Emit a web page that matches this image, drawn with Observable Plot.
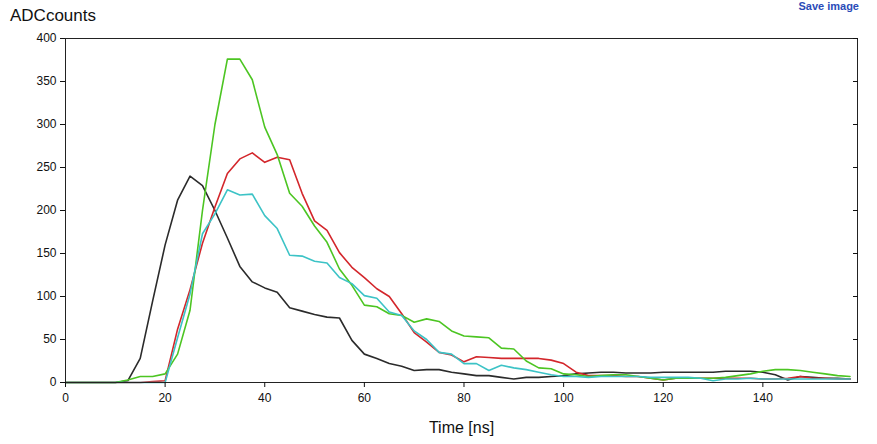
<!DOCTYPE html>
<html>
<head>
<meta charset="utf-8">
<script src="https://cdn.jsdelivr.net/npm/d3@7"></script>
<script src="https://cdn.jsdelivr.net/npm/@observablehq/plot@0.6"></script>
<style>
  body { margin: 0; background: #fff; font-family: "Liberation Sans", Arial, sans-serif; }
  #wrap { position: relative; width: 877px; }
  #ylab { position: absolute; left: 10px; top: 6px; font-size: 17px; color: #111; }
  #save { position: absolute; right: 18px; top: 0px; font-size: 11px; font-weight: bold; color: #2a4bb8; }
</style>
</head>
<body>
<div id="wrap">
  <div id="ylab">ADCcounts</div>
  <div id="save">Save image</div>
  <div id="chart"></div>
</div>
<script>
// sample times, 2.5 ns step
const time = d3.range(0, 160, 2.5)

const ch1 = [0,0,0,0,0,2,28,95,160,212,240,229,200,168,135,117,110,105,87,83,79,76,75,49,33,28,22,19,14,15,15,12,10,8,8,6,4,6,6,7,8,10,11,12,12,11,11,11,12,12,12,12,12,13,13,13,12,9,3,7,6,5,5,4]
const ch2 = [0,0,0,0,0,0,0,1,2,62,108,162,204,243,260,267,256,262,259,220,188,177,151,134,122,109,100,80,58,47,35,32,24,30,29,28,28,28,28,26,22,12,8,8,8,7,7,5,3,5,5,5,5,5,5,5,4,4,5,7,5,5,4,4]
const ch3 = [0,0,0,0,0,3,7,7,10,33,84,200,300,376,376,352,297,265,220,205,182,163,132,113,90,88,80,78,70,74,71,60,54,53,52,40,39,25,17,16,10,9,7,8,9,9,7,5,3,5,5,5,5,6,8,10,13,15,15,14,12,10,8,7]
const ch4 = [0,0,0,0,0,0,0,0,0,52,103,173,196,224,218,219,194,179,148,147,141,139,122,115,101,98,82,78,60,50,35,33,22,22,14,20,17,15,12,9,7,7,6,7,7,7,7,6,6,6,6,5,2,4,4,5,4,4,4,4,4,4,4,4]

const channels = ['ch1', 'ch2', 'ch3', 'ch4']
const colors = ['#2b2b2b', '#d3262b', '#4cc522', '#3cc3c6']
const rows = [ch1, ch2, ch3, ch4].flatMap((vals, k) => vals.map((v, i) => ({t: time[i], v, ch: channels[k]})))

const xTicks = [0, 20, 40, 60, 80, 100, 120, 140]
const yTicks = d3.range(0, 401, 50)

const chart = Plot.plot({
  width: 877,
  height: 444,
  marginLeft: 65,
  marginRight: 20,
  marginTop: 38,
  marginBottom: 62,
  style: {fontFamily: '"Liberation Sans", Arial, sans-serif', fontSize: '12px', color: '#111'},
  x: {domain: [0, 159], label: null},
  y: {domain: [0, 400], label: null},
  color: {domain: channels, range: colors},
  marks: [
    Plot.line(rows, {x: 't', y: 'v', z: 'ch', stroke: 'ch', strokeWidth: 1.6}),
    Plot.frame({stroke: '#222'}),
    Plot.axisY({anchor: 'right', ticks: yTicks, tickSize: -5, tickFormat: () => '', label: null}),
    Plot.axisX({ticks: xTicks, tickSize: 5, label: null, tickPadding: 6}),
    Plot.axisY({ticks: yTicks, tickSize: 5, label: null}),
    Plot.text(['Time [ns]'], {frameAnchor: 'bottom', dy: 50, fontSize: 16, fill: '#111'}),
  ],
})

d3.select('#chart').append(() => chart)
</script>
</body>
</html>
